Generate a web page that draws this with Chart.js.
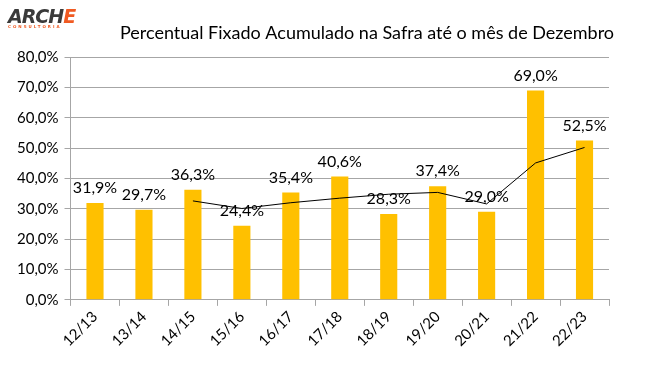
<!DOCTYPE html>
<html>
<head>
<meta charset="utf-8">
<script src="https://cdn.jsdelivr.net/npm/chart.js@4/dist/chart.umd.min.js"></script>
<style>
  html, body { margin: 0; padding: 0; background: #fff; }
  #wrap { position: relative; width: 671px; height: 391px; }
  #logo { position: absolute; left: 8px; top: 5px; font-family: "DejaVu Sans", sans-serif;
          font-weight: bold; font-style: italic; font-size: 19px; letter-spacing: -1px; color: #3a3a3a; }
  #logo span { color: #f05a22; }
  #logo small { display: block; font-size: 4px; color: #f05a22; letter-spacing: 2px; margin-top: -3px; font-style: normal; }
</style>
</head>
<body>
<div id="wrap">
  <canvas id="chart" width="671" height="391"></canvas>
  <div id="logo">ARCH<span>E</span><small>CONSULTORIA</small></div>
</div>
<script>
// ================= DATA =================
const safras = ["12/13", "13/14", "14/15", "15/16", "16/17", "17/18", "18/19", "19/20", "20/21", "21/22", "22/23"];
const fixado = [31.9, 29.7, 36.3, 24.4, 35.4, 40.6, 28.3, 37.4, 29.0, 69.0, 52.5];
// linha de media movel
const mediaMovel = [null, null, 32.6, 30.1, 32.0, 33.5, 34.8, 35.4, 31.6, 45.1, 50.2];
const titulo = "Percentual Fixado Acumulado na Safra até o mês de Dezembro";

const FONT = "Lato, 'Open Sans', sans-serif";
const pct = v => v.toFixed(1).replace(".", ",") + "%";

// titulo + rotulos em cima das barras
const extras = {
  id: "extras",
  afterDatasetsDraw(chart) {
    const ctx = chart.ctx;
    const meta = chart.getDatasetMeta(1);
    ctx.save();
    ctx.fillStyle = "#000";
    ctx.textAlign = "center";
    ctx.textBaseline = "middle";
    ctx.font = "18px " + FONT;
    ctx.fillText(titulo, 367, 33);
    ctx.font = "16px " + FONT;
    meta.data.forEach((bar, i) => {
      ctx.fillText(pct(fixado[i]), bar.x, bar.y - 15);
    });
    ctx.restore();
  }
};

new Chart(document.getElementById("chart"), {
  data: {
    labels: safras,
    datasets: [
      {
        type: "line",
        data: mediaMovel,
        borderColor: "#000",
        borderWidth: 1,
        pointRadius: 0,
        tension: 0,
        order: 0
      },
      {
        type: "bar",
        data: fixado,
        backgroundColor: "#FFC000",
        barPercentage: 0.35,
        categoryPercentage: 1,
        order: 1
      }
    ]
  },
  options: {
    responsive: false,
    animation: false,
    layout: { padding: { left: 11, right: 62, top: 57, bottom: 39 } },
    plugins: {
      legend: { display: false },
      tooltip: { enabled: false },
      title: { display: false }
    },
    scales: {
      x: {
        grid: { display: true, drawOnChartArea: false, color: "#a6a6a6", tickLength: 6, offset: true },
        border: { color: "#a6a6a6" },
        ticks: { color: "#000", font: { family: FONT, size: 15 }, minRotation: 45, maxRotation: 45, padding: 2 }
      },
      y: {
        min: 0,
        max: 80,
        grid: { color: "#a6a6a6", tickLength: 6 },
        border: { color: "#a6a6a6" },
        ticks: { stepSize: 10, color: "#000", font: { family: FONT, size: 15 }, padding: 6,
                 callback: v => pct(v) }
      }
    }
  },
  plugins: [extras]
});
</script>
</body>
</html>
